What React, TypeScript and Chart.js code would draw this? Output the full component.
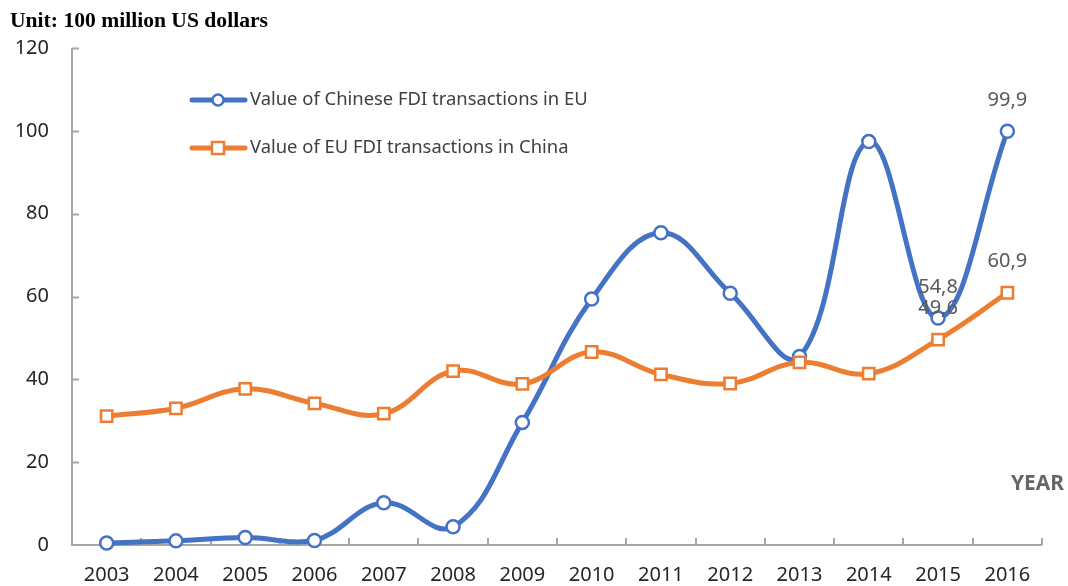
import React, { useEffect, useRef } from "react";
import { Chart, registerables } from "chart.js";

Chart.register(...registerables);

const years = ["2003", "2004", "2005", "2006", "2007", "2008", "2009", "2010", "2011", "2012", "2013", "2014", "2015", "2016"];
const chineseFdiInEu = [0.5, 1.0, 1.8, 1.1, 10.2, 4.4, 29.6, 59.4, 75.4, 60.8, 45.5, 97.4, 54.8, 99.9];
const euFdiInChina = [31.1, 33.0, 37.7, 34.2, 31.7, 42.0, 38.9, 46.6, 41.2, 39.0, 44.1, 41.4, 49.6, 60.9];
const labeledYears = ["2015", "2016"];
const seriesNames = ["Value of Chinese FDI transactions in EU", "Value of EU FDI transactions in China"];
const unitLabel = "Unit: 100 million US dollars";
const axisLabel = "YEAR";
const yMin = 0;
const yMax = 120;
const yStep = 20;

const BLUE = "#4472C4";
const ORANGE = "#ED7D31";
const AXIS = "#A6A6A6";
const SANS = "'Noto Sans', 'Open Sans', sans-serif";

function fitFont(ctx: CanvasRenderingContext2D, text: string, weight: string, family: string, target: number) {
  ctx.font = `${weight} 20px ${family}`;
  const w = ctx.measureText(text).width;
  const size = (20 * target) / w;
  return `${weight} ${size.toFixed(2)}px ${family}`;
}

const decorPlugin = {
  id: "decor",
  beforeDatasetsDraw(chart: any) {
    const { ctx, chartArea } = chart;
    const { left, right, top, bottom } = chartArea;
    ctx.save();
    ctx.strokeStyle = AXIS;
    ctx.lineWidth = 2;
    ctx.beginPath();
    ctx.moveTo(left, top);
    ctx.lineTo(left, bottom);
    ctx.lineTo(right, bottom);
    ctx.stroke();
    const ys = chart.scales.y;
    ctx.beginPath();
    for (let v = yMin + yStep; v <= yMax; v += yStep) {
      const py = Math.round(ys.getPixelForValue(v)) + 0.5;
      ctx.moveTo(left, py);
      ctx.lineTo(left + 7, py);
    }
    const n = years.length;
    const cw = (right - left) / n;
    for (let k = 1; k <= n; k++) {
      const px = Math.round(left + k * cw);
      ctx.moveTo(px, bottom);
      ctx.lineTo(px, bottom - 7);
    }
    ctx.stroke();
    ctx.restore();
  },
  afterDatasetsDraw(chart: any) {
    const { ctx } = chart;
    ctx.save();
    ctx.fillStyle = "#595959";
    ctx.font = `20px ${SANS}`;
    ctx.textAlign = "center";
    ctx.textBaseline = "middle";
    chart.data.datasets.forEach((ds: any, di: number) => {
      const meta = chart.getDatasetMeta(di);
      ds.data.forEach((v: number, i: number) => {
        if (!labeledYears.includes(years[i])) return;
        const el = meta.data[i];
        ctx.fillText(v.toFixed(1).replace(".", ","), el.x, el.y - 31);
      });
    });

    ctx.fillStyle = "#000";
    ctx.textAlign = "left";
    ctx.textBaseline = "alphabetic";
    ctx.font = fitFont(ctx, unitLabel, "bold", "'Liberation Serif', 'Times New Roman', serif", 258);
    ctx.fillText(unitLabel, 10, 27);

    ctx.fillStyle = "#666666";
    ctx.font = fitFont(ctx, axisLabel, "bold", SANS, 53);
    ctx.fillText(axisLabel, 1011, 490);

    const legendFont = fitFont(ctx, seriesNames[0], "", SANS, 338);
    const rows = [
      { y: 100, color: BLUE, name: seriesNames[0], shape: "circle" },
      { y: 148, color: ORANGE, name: seriesNames[1], shape: "rect" },
    ];
    rows.forEach((r) => {
      ctx.strokeStyle = r.color;
      ctx.lineWidth = 5;
      ctx.lineCap = "round";
      ctx.beginPath();
      ctx.moveTo(192, r.y);
      ctx.lineTo(245, r.y);
      ctx.stroke();
      ctx.fillStyle = "#fff";
      ctx.lineWidth = 2.5;
      ctx.beginPath();
      if (r.shape === "circle") {
        ctx.arc(218, r.y, 5.5, 0, Math.PI * 2);
      } else {
        ctx.rect(212, r.y - 6, 12, 12);
      }
      ctx.fill();
      ctx.stroke();
      ctx.fillStyle = "#404040";
      ctx.font = legendFont;
      ctx.textBaseline = "middle";
      ctx.fillText(r.name, 250, r.y);
    });
    ctx.restore();
  },
};

export default function App() {
  const canvasRef = useRef<HTMLCanvasElement>(null);

  useEffect(() => {
    const canvas = canvasRef.current;
    if (!canvas) return;
    const chart = new Chart(canvas, {
      type: "line",
      data: {
        labels: years,
        datasets: [
          {
            label: seriesNames[1],
            data: euFdiInChina,
            borderColor: ORANGE,
            backgroundColor: "#ffffff",
            borderWidth: 5,
            tension: 0.4,
            pointStyle: "rect",
            pointRadius: 8,
            pointBorderWidth: 2.5,
            pointBackgroundColor: "#ffffff",
            pointBorderColor: ORANGE,
            clip: false,
          },
          {
            label: seriesNames[0],
            data: chineseFdiInEu,
            borderColor: BLUE,
            backgroundColor: "#ffffff",
            borderWidth: 5,
            tension: 0.4,
            pointStyle: "circle",
            pointRadius: 6.5,
            pointBorderWidth: 2.5,
            pointBackgroundColor: "#ffffff",
            pointBorderColor: BLUE,
            clip: false,
          },
        ],
      },
      options: {
        responsive: false,
        animation: false,
        devicePixelRatio: 1,
        layout: { padding: { left: 0, top: 48, right: 26, bottom: 0 } },
        plugins: {
          legend: { display: false },
          tooltip: { enabled: false },
          title: { display: false },
        },
        scales: {
          x: {
            type: "category",
            offset: true,
            grid: { display: false, drawTicks: false },
            border: { display: false },
            ticks: {
              color: "#262626",
              font: { family: SANS, size: 20 },
              padding: 18,
              maxRotation: 0,
              autoSkip: false,
            },
            afterFit: (s: any) => {
              s.height = 41;
            },
          },
          y: {
            min: yMin,
            max: yMax,
            grid: { display: false, drawTicks: false },
            border: { display: false },
            ticks: {
              stepSize: yStep,
              color: "#262626",
              font: { family: SANS, size: 20 },
              padding: 23,
            },
            afterFit: (s: any) => {
              s.width = 72;
            },
          },
        },
      },
      plugins: [decorPlugin],
    });
    return () => chart.destroy();
  }, []);

  return (
    <div style={{ position: "absolute", left: 0, top: 0, width: 1068, height: 586, background: "#fff" }}>
      <canvas ref={canvasRef} width={1068} height={586} style={{ display: "block" }} />
    </div>
  );
}
